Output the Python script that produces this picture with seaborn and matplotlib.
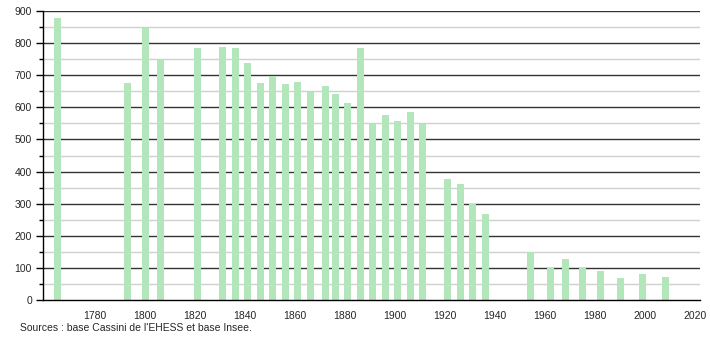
import matplotlib
matplotlib.use("Agg")
import matplotlib.pyplot as plt
import seaborn as sns
import pandas as pd
from matplotlib.ticker import MultipleLocator

years = [1765, 1793, 1800, 1806, 1821, 1831, 1836, 1841, 1846, 1851, 1856, 1861,
         1866, 1872, 1876, 1881, 1886, 1891, 1896, 1901, 1906, 1911, 1921, 1926,
         1931, 1936, 1954, 1962, 1968, 1975, 1982, 1990, 1999, 2008]
population = [877, 677, 846, 748, 784, 789, 785, 737, 677, 699, 672, 678,
              649, 666, 643, 615, 786, 549, 575, 557, 587, 549, 376, 362,
              300, 268, 148, 100, 128, 101, 91, 69, 81, 72]
xticks = [1780, 1800, 1820, 1840, 1860, 1880, 1900, 1920, 1940, 1960, 1980, 2000, 2020]
source_text = "Sources : base Cassini de l'EHESS et base Insee."

sns.set_theme(style="white")
plt.rcParams['font.family'] = ['Liberation Sans', 'DejaVu Sans']

df = pd.DataFrame({"year": years, "population": population})

fig = plt.figure(figsize=(7.1, 3.4), dpi=100)
ax = fig.add_axes([43/710, 40/340, 657/710, 289/340])

sns.barplot(data=df, x="year", y="population", native_scale=True, width=0.7,
            color="#b3e6bb", saturation=1, ax=ax, errorbar=None)
for p in ax.patches:
    p.set_zorder(4)
    p.set_linewidth(0)

ax.set_xlim(1759.2, 2022)
ax.set_ylim(0, 900)
ax.yaxis.set_major_locator(MultipleLocator(100))
ax.yaxis.set_minor_locator(MultipleLocator(50))
ax.set_xticks(xticks)
ax.set_xticklabels([str(t) for t in xticks])

for v in range(50, 900, 100):
    ax.axhline(v, color="#d0d0d0", lw=1.0, zorder=1)
for v in range(100, 1000, 100):
    ax.axhline(v, color="#333333", lw=1.0, zorder=2)

for s in ["top", "right"]:
    ax.spines[s].set_visible(False)
for s in ["left", "bottom"]:
    ax.spines[s].set_color("black")
    ax.spines[s].set_linewidth(1.0)
    ax.spines[s].set_zorder(5)

ax.tick_params(axis="y", which="major", left=True, length=5, width=1, color="black",
               labelsize=7.5, pad=3)
ax.tick_params(axis="y", which="minor", left=True, length=3, width=1, color="black")
ax.tick_params(axis="x", bottom=False, labelsize=7.5, pad=2)
ax.set_xlabel("")
ax.set_ylabel("")

fig.text(20/710, 1 - 328/340, source_text, fontsize=7.5, va="center", ha="left")

fig.savefig("out.png", dpi=100)
